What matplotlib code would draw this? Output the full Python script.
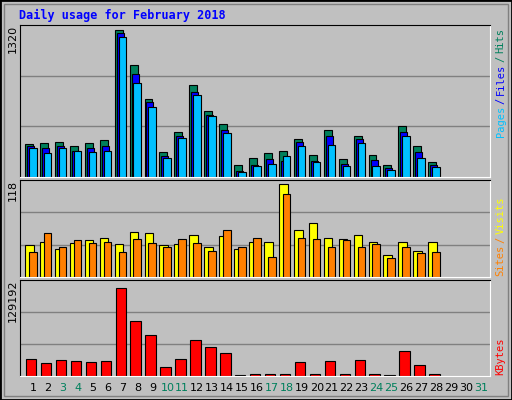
import numpy as np
import matplotlib
matplotlib.use('Agg')
import matplotlib.pyplot as plt
from matplotlib.patches import Rectangle

days = np.arange(1, 29)
# values
hits = [290,299,308,265,299,317,1280,974,677,221,395,796,570,456,107,169,212,230,334,195,404,160,352,195,107,439,273,134]
files = [273,255,273,230,255,265,1254,895,648,186,352,738,535,404,55,107,160,142,308,142,352,116,326,151,81,387,221,107]
pages = [255,212,255,230,221,230,1219,816,605,169,343,712,526,378,46,99,116,186,265,134,282,99,299,99,64,360,169,90]
visits = [39,43,34,41,45,48,40,55,53,39,40,51,36,50,34,43,43,113,57,66,48,46,51,43,27,43,32,43]
sites = [31,53,37,45,41,43,31,46,41,37,46,41,32,57,37,48,24,101,47,46,36,45,36,40,23,36,29,31]
kbytes = [22500,17300,21200,19900,18600,19900,118900,73400,55100,12100,22500,48600,39500,31600,1700,3000,3000,3000,18600,3000,19900,3000,21200,3000,1700,33000,14700,3000]
xlabels = [str(d) for d in range(1, 32)]
weekend = [3, 4, 10, 11, 17, 18, 24, 25, 31]

bg = '#C0C0C0'
mono = 'DejaVu Sans Mono'
fig = plt.figure(figsize=(5.12, 4.0), dpi=100, facecolor=bg)
fig.patches.append(Rectangle((0, 0), 1, 1, transform=fig.transFigure, fill=False, ec='black', lw=2))
fig.patches.append(Rectangle((0.008, 0.01), 0.984, 0.98, transform=fig.transFigure, fill=False, ec='#808080', lw=1))

def panel(rect, ymax):
    ax = fig.add_axes(rect)
    ax.set_facecolor(bg)
    ax.set_xlim(0.13, 31.6)
    ax.set_ylim(0, ymax)
    for y in (ymax / 3, 2 * ymax / 3):
        ax.axhline(y, color='#808080', lw=1, zorder=0)
    ax.set_xticks([])
    ax.set_yticks([])
    for s in ('left', 'top'):
        ax.spines[s].set_color('black')
    for s in ('right', 'bottom'):
        ax.spines[s].set_color('white')
    ax.text(-0.004, 1.0, str(ymax), transform=ax.transAxes, rotation=90, ha='right', va='top',
            fontsize=8, color='black')
    return ax

ax1 = panel([0.039, 0.5575, 0.918, 0.38], 1320)
ax1.bar(days - 0.53, hits, width=0.53, align='edge', color='#00805C', ec='black', lw=0.8)
ax1.bar(days - 0.4, files, width=0.47, align='edge', color='#0000FF', ec='black', lw=0.8)
ax1.bar(days - 0.27, pages, width=0.51, align='edge', color='#00C0FF', ec='black', lw=0.8)

ax2 = panel([0.039, 0.3075, 0.918, 0.2425], 118)
ax2.bar(days - 0.53, visits, width=0.58, align='edge', color='#FFFF00', ec='black', lw=0.8)
ax2.bar(days - 0.27, sites, width=0.51, align='edge', color='#FF8000', ec='black', lw=0.8)

ax3 = panel([0.039, 0.06, 0.918, 0.24], 129192)
ax3.bar(days - 0.47, kbytes, width=0.7, align='edge', color='#FF0000', ec='black', lw=0.8)

for i, lab in enumerate(xlabels):
    d = i + 1
    c = '#00805C' if d in weekend else 'black'
    ax3.text(d, -0.13, lab, transform=ax3.get_xaxis_transform(), ha='center', va='center',
             fontsize=8, color=c)

fig.text(0.037, 0.962, 'Daily usage for February 2018', color='#0000FF', fontsize=8.5,
         fontweight='bold', family=mono, va='center')

def side(y, parts):
    # stacked rotated labels on the right, drawn bottom to top
    x = 0.978
    pos = y
    for txt, col in parts:
        fig.text(x, pos, txt, rotation=90, color=col, fontsize=7.5, family=mono, ha='center', va='bottom')
        pos += len(txt) * 0.0148 + 0.008

side(0.6575, [('Pages', '#00C0FF'), ('/', '#0000FF'), ('Files', '#0000FF'), ('/', '#00805C'), ('Hits', '#00805C')])
side(0.31, [('Sites', '#FF8000'), ('/', '#FF8000'), ('Visits', '#FFFF00')])
side(0.062, [('KBytes', '#FF0000')])

fig.savefig('out.png', dpi=100, facecolor=bg)
